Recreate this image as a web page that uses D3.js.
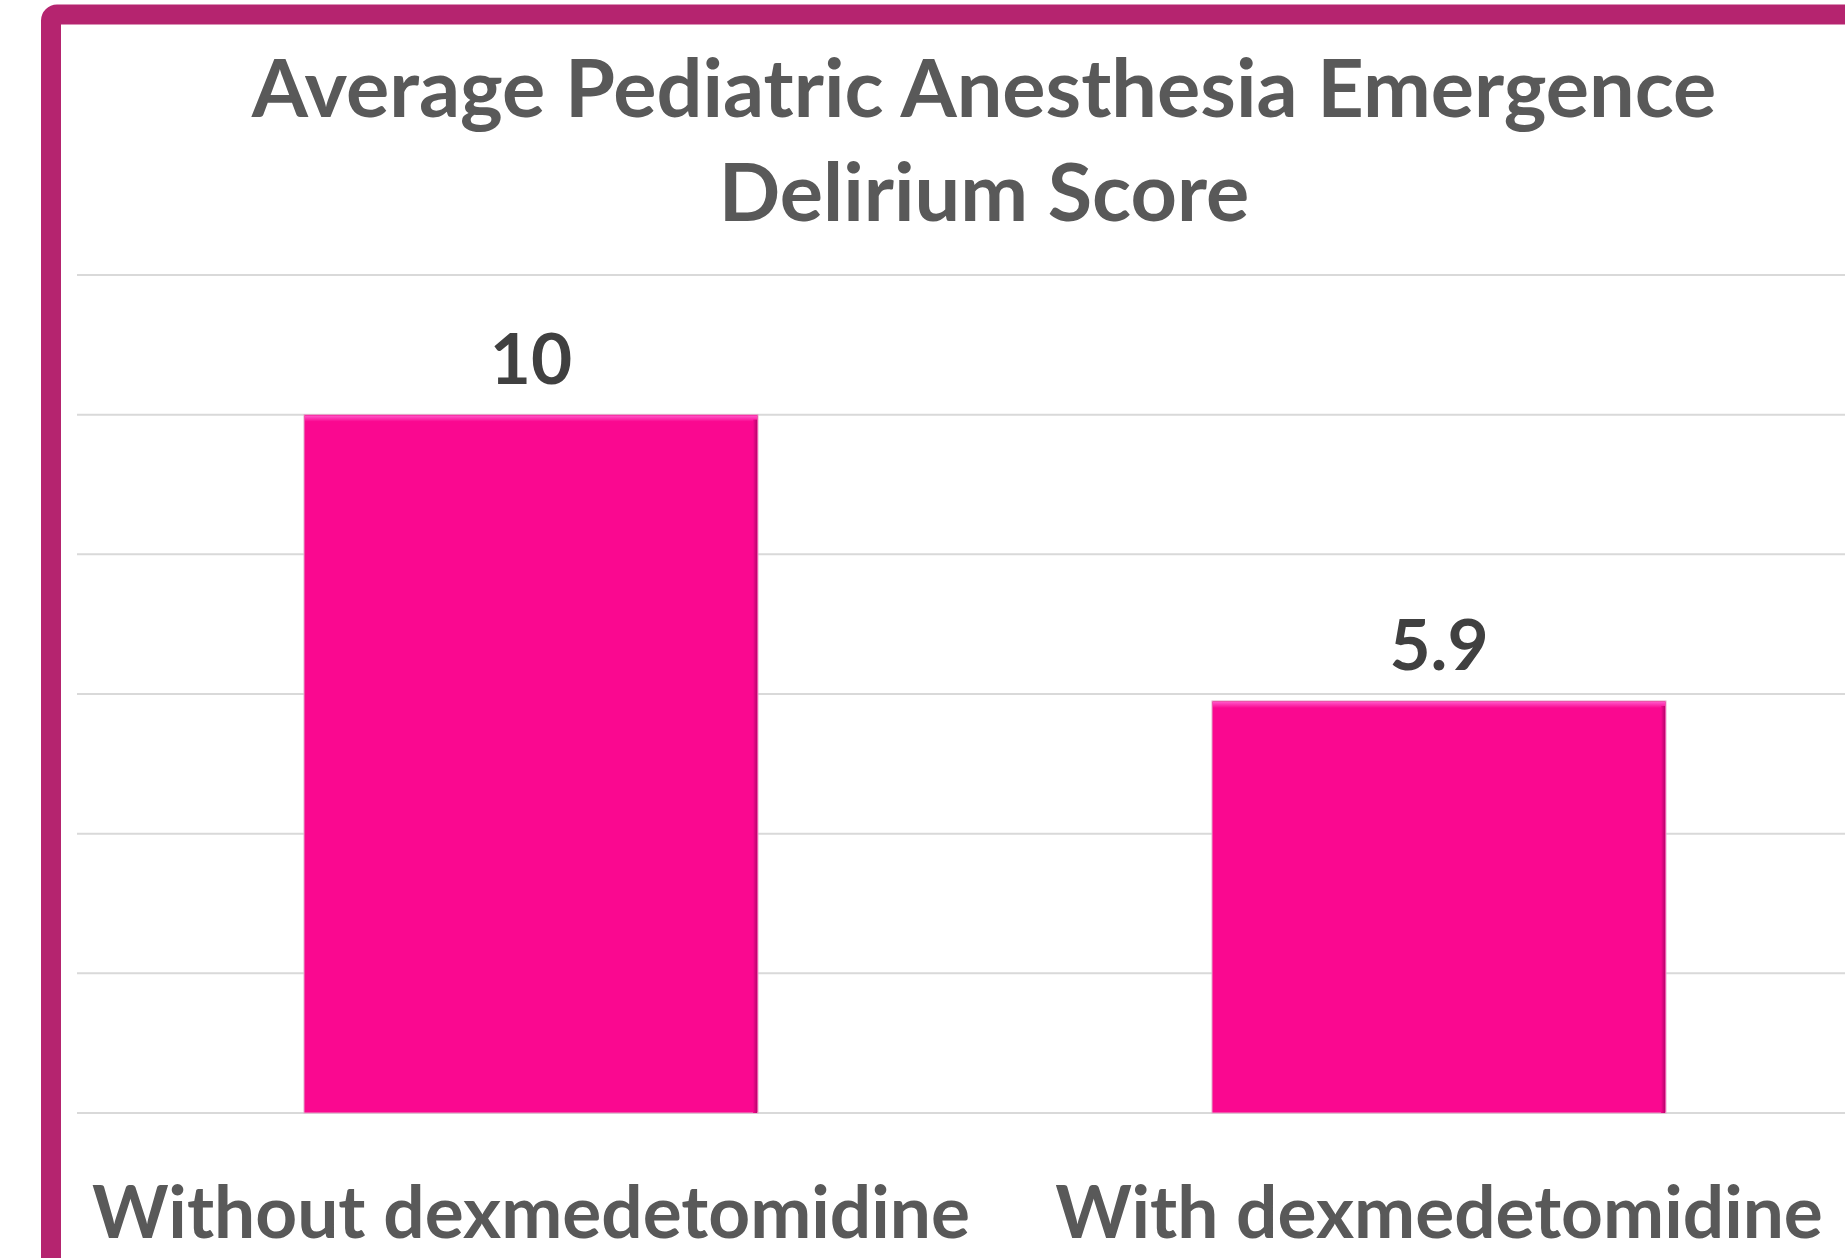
<!DOCTYPE html>
<html>
<head>
<meta charset="utf-8">
<script src="https://cdn.jsdelivr.net/npm/d3@7"></script>
<style>
  html, body { margin: 0; padding: 0; background: #fff; }
  svg { display: block; }
  text { font-family: Lato, "Open Sans", sans-serif; font-weight: bold; }
</style>
</head>
<body>
<svg id="chart" width="1845" height="1258"></svg>
<script>
// Average Pediatric Anesthesia Emergence Delirium Score
var titleLines = ['Average Pediatric Anesthesia Emergence', 'Delirium Score']
var categories = ['Without dexmedetomidine', 'With dexmedetomidine']
var scores = [10, 5.9]
var scoreLabels = ['10', '5.9']
var yTicks = [0, 2, 4, 6, 8, 10, 12]

var svg = d3.select('#chart'),
	margin = {top: 275, right: -48, bottom: 145, left: 77},
	width = +svg.attr('width') - margin.left - margin.right,
	height = +svg.attr('height') - margin.top - margin.bottom

// frame round the slide
svg.append('rect')
	.attr('x', 51).attr('y', 14.5)
	.attr('width', 1900).attr('height', 1400)
	.attr('rx', 6)
	.attr('fill', 'none')
	.attr('stroke', '#b5246f')
	.attr('stroke-width', 20)

var defs = svg.append('defs')
var topGrad = defs.append('linearGradient').attr('id', 'bevelTop')
	.attr('x1', 0).attr('y1', 0).attr('x2', 0).attr('y2', 1)
topGrad.append('stop').attr('offset', '0%').attr('stop-color', '#ff55c8')
topGrad.append('stop').attr('offset', '100%').attr('stop-color', '#fa0890')
var sideGrad = defs.append('linearGradient').attr('id', 'bevelSide')
	.attr('x1', 0).attr('y1', 0).attr('x2', 1).attr('y2', 0)
sideGrad.append('stop').attr('offset', '0%').attr('stop-color', '#fa0890')
sideGrad.append('stop').attr('offset', '100%').attr('stop-color', '#b8066c')

var g = svg.append('g').attr('transform', 'translate(' + margin.left + ',' + margin.top + ')')

var x = d3.scaleBand().domain(categories).range([0, width])
	.paddingInner(0.5).paddingOuter(0.25)
var y = d3.scaleLinear().domain([0, 12]).range([height, 0])

// gridlines
g.append('g').selectAll('line').data(yTicks)
	.enter().append('line')
	.attr('x1', 0).attr('x2', width)
	.attr('y1', function(d) { return y(d) })
	.attr('y2', function(d) { return y(d) })
	.attr('stroke', '#d9d9d9').attr('stroke-width', 2)

// bars
var bar = g.selectAll('.bar').data(scores)
	.enter().append('g').attr('class', 'bar')

bar.append('rect')
	.attr('x', function(d, i) { return x(categories[i]) })
	.attr('y', function(d) { return y(d) })
	.attr('width', x.bandwidth())
	.attr('height', function(d) { return height - y(d) })
	.attr('fill', '#fa0890')
	.attr('stroke', '#e2a9c9').attr('stroke-width', 1)

bar.append('rect')
	.attr('x', function(d, i) { return x(categories[i]) + 1 })
	.attr('y', function(d) { return y(d) + 1 })
	.attr('width', x.bandwidth() - 2)
	.attr('height', 6)
	.attr('fill', 'url(#bevelTop)')

bar.append('rect')
	.attr('x', function(d, i) { return x(categories[i]) + x.bandwidth() - 5 })
	.attr('y', function(d) { return y(d) + 5 })
	.attr('width', 4)
	.attr('height', function(d) { return height - y(d) - 5 })
	.attr('fill', 'url(#bevelSide)')

// value labels
g.selectAll('.value').data(scoreLabels)
	.enter().append('text').attr('class', 'value')
	.text(function(d) { return d })
	.attr('x', function(d, i) { return x(categories[i]) + x.bandwidth() / 2 })
	.attr('y', function(d, i) { return y(scores[i]) - 31 })
	.attr('text-anchor', 'middle')
	.attr('font-size', 71)
	.attr('fill', '#404040')

// category labels
g.selectAll('.cat').data(categories)
	.enter().append('text').attr('class', 'cat')
	.text(function(d) { return d })
	.attr('x', function(d) { return x(d) + x.bandwidth() / 2 })
	.attr('y', height + 125)
	.attr('text-anchor', 'middle')
	.attr('font-size', 73)
	.attr('fill', '#595959')

// title
svg.selectAll('.title').data(titleLines)
	.enter().append('text').attr('class', 'title')
	.text(function(d) { return d })
	.attr('x', 984)
	.attr('y', function(d, i) { return 117 + i * 104 })
	.attr('text-anchor', 'middle')
	.attr('font-size', 81)
	.attr('fill', '#595959')
</script>
</body>
</html>
